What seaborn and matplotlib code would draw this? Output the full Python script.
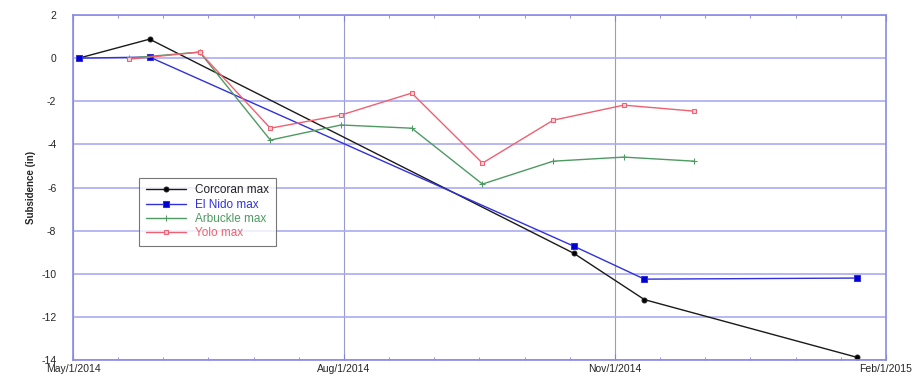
import pandas as pd
import matplotlib
matplotlib.use("Agg")
import matplotlib.pyplot as plt
import matplotlib.dates as mdates
import seaborn as sns

# Corcoran / El Nido share one set of acquisition dates
corc_dates = ["2014-05-03", "2014-05-27", "2014-10-18", "2014-11-11", "2015-01-22"]
corcoran = [0.0, 0.88, -9.05, -11.2, -13.87]
el_nido = [0.0, 0.05, -8.72, -10.25, -10.2]

# Arbuckle / Yolo dates
arb_dates = ["2014-05-20", "2014-06-13", "2014-07-07", "2014-07-31", "2014-08-24",
             "2014-09-17", "2014-10-11", "2014-11-04", "2014-11-28"]
arbuckle = [0.0, 0.28, -3.8, -3.1, -3.25, -5.84, -4.78, -4.59, -4.78]
yolo = [-0.05, 0.28, -3.25, -2.64, -1.62, -4.87, -2.88, -2.18, -2.46]

tick_dates = ["2014-05-01", "2014-08-01", "2014-11-01", "2015-02-01"]
tick_labels = ["May/1/2014", "Aug/1/2014", "Nov/1/2014", "Feb/1/2015"]

sns.set_style("white")
plt.rcParams['font.family'] = ['Liberation Sans', 'DejaVu Sans']
plt.rcParams['axes.unicode_minus'] = False

fig = plt.figure(figsize=(9.16, 3.82), dpi=100)
ax = fig.add_axes([0.0797, 0.0576, 0.8875, 0.9031])

series = [
    ("Corcoran max", corc_dates, corcoran, "#1a1a1a", "o", "#000000", 3.5),
    ("El Nido max", corc_dates, el_nido, "#3030e0", "s", "#0000d0", 4),
    ("Arbuckle max", arb_dates, arbuckle, "#4e9a62", "+", "#4e9a62", 4),
    ("Yolo max", arb_dates, yolo, "#f06070", "s", "#fbd0d4", 3.5),
]

for name, d, vals, col, mk, mfc, ms in series:
    df = pd.DataFrame({"date": pd.to_datetime(d), "val": vals})
    sns.lineplot(data=df, x="date", y="val", ax=ax, color=col, marker=mk,
                 markersize=ms, markerfacecolor=mfc, markeredgecolor=col,
                 linewidth=1.0, label=name)

x0 = pd.Timestamp("2014-05-01")
x1 = pd.Timestamp("2015-02-01")
ax.set_xlim(x0, x1)
ax.set_ylim(-14, 2)

majors = [mdates.date2num(pd.Timestamp(t)) for t in tick_dates]
ax.set_xticks(majors)
ax.set_xticklabels(tick_labels, fontsize=7.5)
minors = [m + k * 92 / 6 for m in majors[:-1] for k in range(1, 6)]
ax.set_xticks(minors, minor=True)
ax.set_yticks(range(-14, 3, 2))
ax.tick_params(axis='y', labelsize=7.5, length=0, pad=12)
ax.tick_params(axis='x', which='both', direction='in', top=True, bottom=True,
               color='#8080d8', pad=3)
ax.tick_params(axis='x', which='major', length=4)
ax.tick_params(axis='x', which='minor', length=2.5)

ax.set_xlabel("")
ax.set_ylabel("Subsidence (in)", fontsize=7, fontweight='bold', labelpad=4)

ax.grid(axis='y', color='#aaaaf2', linewidth=1.2)
ax.grid(axis='x', color='#9a9ad0', linewidth=0.8)
for sp in ax.spines.values():
    sp.set_color('#8a8ae6')
    sp.set_linewidth(1.2)

leg = ax.legend(loc='upper left', bbox_to_anchor=(0.074, 0.545), fontsize=8.5,
                frameon=True, fancybox=False, edgecolor='#555555',
                handlelength=3.4, borderpad=0.55, labelspacing=0.2)
leg.get_frame().set_linewidth(0.8)
for txt, s in zip(leg.get_texts(), series):
    txt.set_color(s[3] if s[0] != "Corcoran max" else "#222222")

plt.savefig("out.png", dpi=100)
